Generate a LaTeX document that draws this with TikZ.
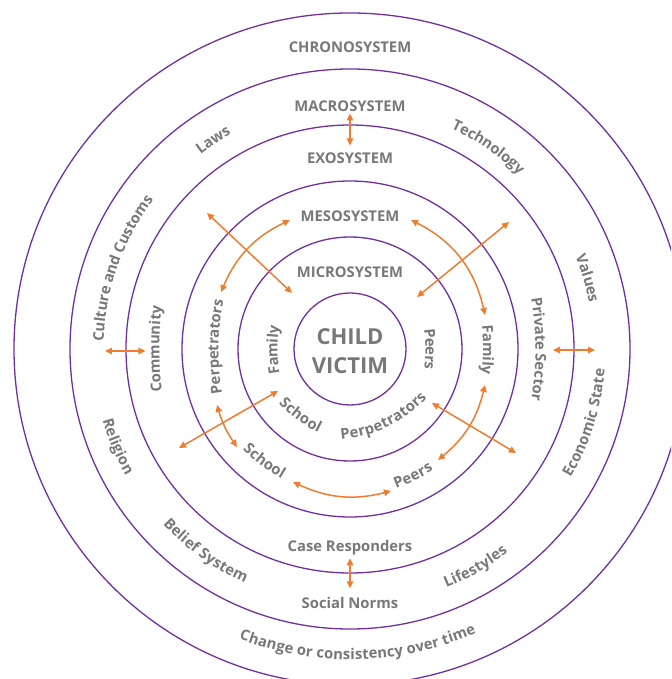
\documentclass[tikz,border=0pt]{standalone}
\usepackage{fontspec}
\newfontfamily\lblfont{Open Sans}
\usetikzlibrary{arrows.meta,decorations.text,calc}
\definecolor{ringpurple}{RGB}{112,48,160}
\definecolor{linkorange}{RGB}{237,125,49}
\definecolor{labelgray}{RGB}{120,120,120}
\newcommand\ringfont{\lblfont\bfseries\fontsize{14.8}{18}\selectfont\color{labelgray}}
% text set clockwise along an arc (reads left to right over the top)
% #1 mid angle, #2 radius of text middle, #3 radius of curvature, #4 text
\newcommand\cwtext[4]{%
  \path[decorate,decoration={text along path,text align=center,raise=-4.5pt,
      text={|\ringfont|#4}}]
    ($(#1:#2)+(#1:-#3)+({#1+60}:#3)$) arc[start angle={#1+60},end angle={#1-60},radius=#3];}
% text set counter-clockwise along an arc (reads left to right under the bottom)
\newcommand\ccwtext[4]{%
  \path[decorate,decoration={text along path,text align=center,raise=-4.5pt,
      text={|\ringfont|#4}}]
    ($(#1:#2)+(#1:-#3)+({#1-60}:#3)$) arc[start angle={#1-60},end angle={#1+60},radius=#3];}

\begin{document}
\begin{tikzpicture}[x=1pt,y=1pt,
  ring/.style={draw=ringpurple,line width=1.3pt},
  link/.style={draw=linkorange,line width=1.5pt,
    {Triangle[length=7pt,width=6.5pt]}-{Triangle[length=7pt,width=6.5pt]}},
  heading/.style={text=labelgray,font=\lblfont\bfseries\fontsize{14.8}{18}\selectfont,
    anchor=base,inner sep=0pt},
  core/.style={text=labelgray,font=\lblfont\bfseries\fontsize{22}{28}\selectfont,
    anchor=base,inner sep=0pt},
]
\useasboundingbox (-350,-330) rectangle (321,349);
\clip (-350,-330) rectangle (321,349);
\fill[white] (-350,-330) rectangle (321,349);

% nested system rings
\foreach \r in {56,112,168,224,280,336}
  \draw[ring] (0,0) circle[radius=\r];

% centre
\node[core] (child) at (0,4) {CHILD};
\node[core] (victim) at (0,-25) {VICTIM};

% system headings
\node[heading] (chrono) at (0,296.3) {CHRONOSYSTEM};
\node[heading] (macro) at (0,237.3) {MACROSYSTEM};
\node[heading] (exo) at (0,185.7) {EXOSYSTEM};
\node[heading] (meso) at (0,127.3) {MESOSYSTEM};
\node[heading] (micro) at (0,71) {MICROSYSTEM};
\node[heading] (caseresp) at (0,-202) {Case Responders};
\node[heading] (socnorms) at (0,-259) {Social Norms};

% macrosystem ring
\cwtext{123.2}{250}{250}{Laws}
\cwtext{55.6}{247}{250}{Technology}
\cwtext{16.6}{248}{250}{Values}
\cwtext{160.5}{251}{251}{Culture and Customs}
\ccwtext{202.8}{253}{253}{Religion}
\ccwtext{234.5}{252}{252}{Belief System}
\ccwtext{299.9}{253}{253}{Lifestyles}
\ccwtext{-17.4}{251}{251}{Economic State}

% chronosystem ring
\ccwtext{271.5}{306}{306}{Change or consistency over time}

% exosystem ring
\cwtext{180}{195}{400}{Community}
\cwtext{0}{190}{300}{Private Sector}

% mesosystem ring
\cwtext{179}{136}{250}{Perpetrators}
\cwtext{-0.4}{137.5}{250}{Family}
\ccwtext{232.7}{142}{200}{School}
\ccwtext{296.4}{142}{200}{Peers}

% microsystem ring
\cwtext{180.7}{77}{150}{Family}
\cwtext{0}{80}{150}{Peers}
\ccwtext{233.3}{84}{130}{School}
\ccwtext{296}{82}{130}{Perpetrators}

% link end points
\coordinate (macroA) at (0,235.5);
\coordinate (exoA) at (0,203.5);
\coordinate (caseA) at (0,-209.3);
\coordinate (normsA) at (0,-239.3);
\coordinate (cultA) at (-245,-2);
\coordinate (commA) at (-204.5,-2);
\coordinate (privA) at (203,-1);
\coordinate (econA) at (245,-1);
\coordinate (tlOut) at (-143,136);
\coordinate (tlIn) at (-58,56);
\coordinate (trOut) at (159,127);
\coordinate (trIn) at (67,52);
\coordinate (blOut) at (-171,-99);
\coordinate (blIn) at (-72,-42);
\coordinate (brIn) at (82,-54);
\coordinate (brOut) at (166,-104);
\coordinate (mesoL) at (-60,129);
\coordinate (perpTop) at (-129,57);
\coordinate (mesoR) at (61,129);
\coordinate (famTop) at (135,34);
\coordinate (famBot) at (135,-36);
\coordinate (peersR) at (88,-111);
\coordinate (perpBot) at (-133,-56);
\coordinate (schoolL) at (-113,-98);
\coordinate (schoolB) at (-57,-133);
\coordinate (peersB) at (41,-142);

% straight links
\draw[link] (macroA) -- (exoA);
\draw[link] (caseA) -- (normsA);
\draw[link] (cultA) -- (commA);
\draw[link] (privA) -- (econA);
\draw[link] (tlOut) -- (tlIn);
\draw[link] (trOut) -- (trIn);
\draw[link] (blOut) -- (blIn);
\draw[link] (brIn) -- (brOut);

% curved links around the mesosystem
\draw[link] (mesoL) to[bend right=20.6] (perpTop);
\draw[link] (mesoR) to[bend left=25.3] (famTop);
\draw[link] (famBot) to[bend left=18.4] (peersR);
\draw[link] (perpBot) to[bend right=9] (schoolL);
\draw[link] (schoolB) to[bend right=19.6] (peersB);
\end{tikzpicture}
\end{document}
